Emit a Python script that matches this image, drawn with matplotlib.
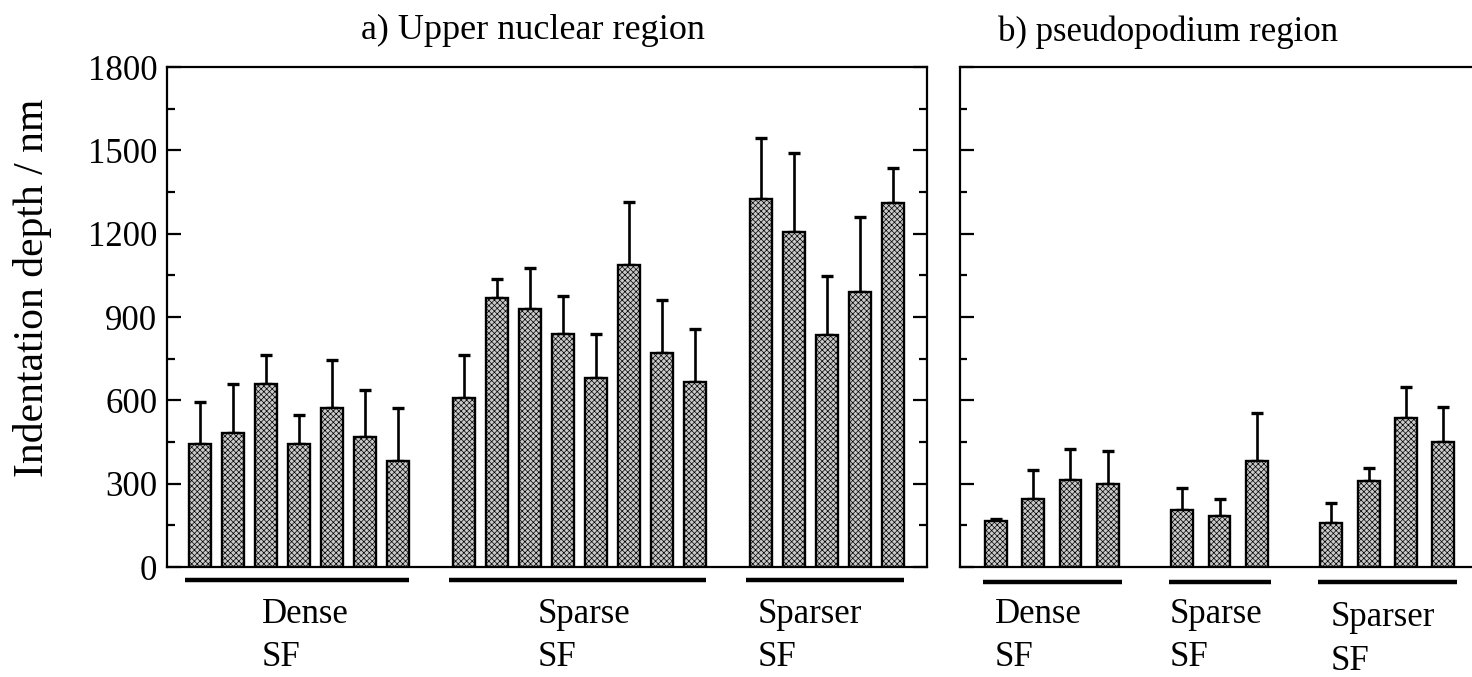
import matplotlib
matplotlib.use("Agg")
import matplotlib.pyplot as plt
import matplotlib.transforms as mtransforms

plt.rcParams['font.family'] = ['Liberation Serif', 'DejaVu Serif']
plt.rcParams['hatch.linewidth'] = 0.5
plt.rcParams['hatch.color'] = '#ababab'

# ---------------- data ----------------
group_names = ["Dense\nSF", "Sparse\nSF", "Sparser\nSF"]

# a) Upper nuclear region
a_dense_mean = [444, 484, 660, 444, 571, 469, 381]
a_dense_err = [150, 176, 103, 103, 174, 167, 190]
a_sparse_mean = [607, 967, 929, 840, 682, 1086, 769, 666]
a_sparse_err = [156, 71, 149, 134, 158, 229, 192, 191]
a_sparser_mean = [1325, 1206, 835, 990, 1309]
a_sparser_err = [221, 284, 212, 271, 126]

# b) pseudopodium region
b_dense_mean = [166, 245, 315, 300]
b_dense_err = [8, 103, 111, 119]
b_sparse_mean = [206, 183, 382]
b_sparse_err = [80, 63, 171]
b_sparser_mean = [159, 308, 537, 450]
b_sparser_err = [71, 47, 112, 127]

a_starts = [0, 8, 17]
b_starts = [0, 5, 9]
a_label_x = [1.88, 10.24, 16.9]
b_label_x = [-0.03, 4.67, 8.97]
b_label_y = [-0.062, -0.062, -0.068]

y_ticks = [0, 300, 600, 900, 1200, 1500, 1800]

W, H = 1472, 677
fig = plt.figure(figsize=(W / 100, H / 100), dpi=100)

def frac(x0, y_top, x1, y_bot):
    return [x0 / W, 1 - y_bot / H, (x1 - x0) / W, (y_bot - y_top) / H]

axA = fig.add_axes(frac(167, 67, 927, 567))
axB = fig.add_axes(frac(960, 67, 1484, 567))

def draw(ax, groups, starts, width, label_x, label_y, line_off, line_y):
    trans = mtransforms.blended_transform_factory(ax.transData, ax.transAxes)
    for (means, errs), s, lx, ly, name in zip(groups, starts, label_x, label_y, group_names):
        xs = [s + i for i in range(len(means))]
        ax.bar(xs, means, width=width, facecolor='#c9c9c9', edgecolor='black',
               linewidth=1.7, hatch='xxxxxx', zorder=2)
        ax.errorbar(xs, means, yerr=[[0] * len(errs), errs], fmt='none',
                    ecolor='black', elinewidth=1.9, capsize=4, capthick=2.4, zorder=1)
        ax.plot([xs[0] - line_off[0], xs[-1] + line_off[1]], [line_y, line_y],
                transform=trans, color='black', linewidth=3.2, clip_on=False,
                solid_capstyle='butt')
        ax.text(lx, ly, name, transform=trans, ha='left', va='top',
                fontsize=25, linespacing=1.42)
    ax.set_ylim(0, 1800)
    ax.set_yticks(y_ticks)
    ax.set_yticks(range(150, 1800, 300), minor=True)
    ax.set_xticks([])
    for sp in ax.spines.values():
        sp.set_linewidth(1.6)

draw(axA, [(a_dense_mean, a_dense_err), (a_sparse_mean, a_sparse_err),
           (a_sparser_mean, a_sparser_err)], a_starts, 0.667, a_label_x,
     [-0.062] * 3, (0.45, 0.33), -0.026)
axA.set_xlim(-1.0, 22.03)
axA.tick_params(axis='y', which='both', direction='in', left=True, right=True,
                width=1.6, labelsize=25, pad=7)
axA.tick_params(axis='y', which='major', length=10)
axA.tick_params(axis='y', which='minor', length=6)

draw(axB, [(b_dense_mean, b_dense_err), (b_sparse_mean, b_sparse_err),
           (b_sparser_mean, b_sparser_err)], b_starts, 0.59, b_label_x,
     b_label_y, (0.35, 0.37), -0.03)
axB.set_xlim(-0.966, 13.1)
axB.tick_params(axis='y', which='both', direction='in', left=True, right=False,
                labelleft=False, width=1.6)
axB.tick_params(axis='y', which='major', length=10)
axB.tick_params(axis='y', which='minor', length=5)

fig.text(533 / W, 1 - 30 / H, "a) Upper nuclear region", ha='center', va='center', fontsize=26)
fig.text(1168 / W, 1 - 32 / H, "b) pseudopodium region", ha='center', va='center', fontsize=25)
fig.text(33 / W, 1 - 288 / H, "Indentation depth / nm", ha='center', va='center',
         rotation=90, fontsize=30)

fig.savefig("out.png", dpi=100)
